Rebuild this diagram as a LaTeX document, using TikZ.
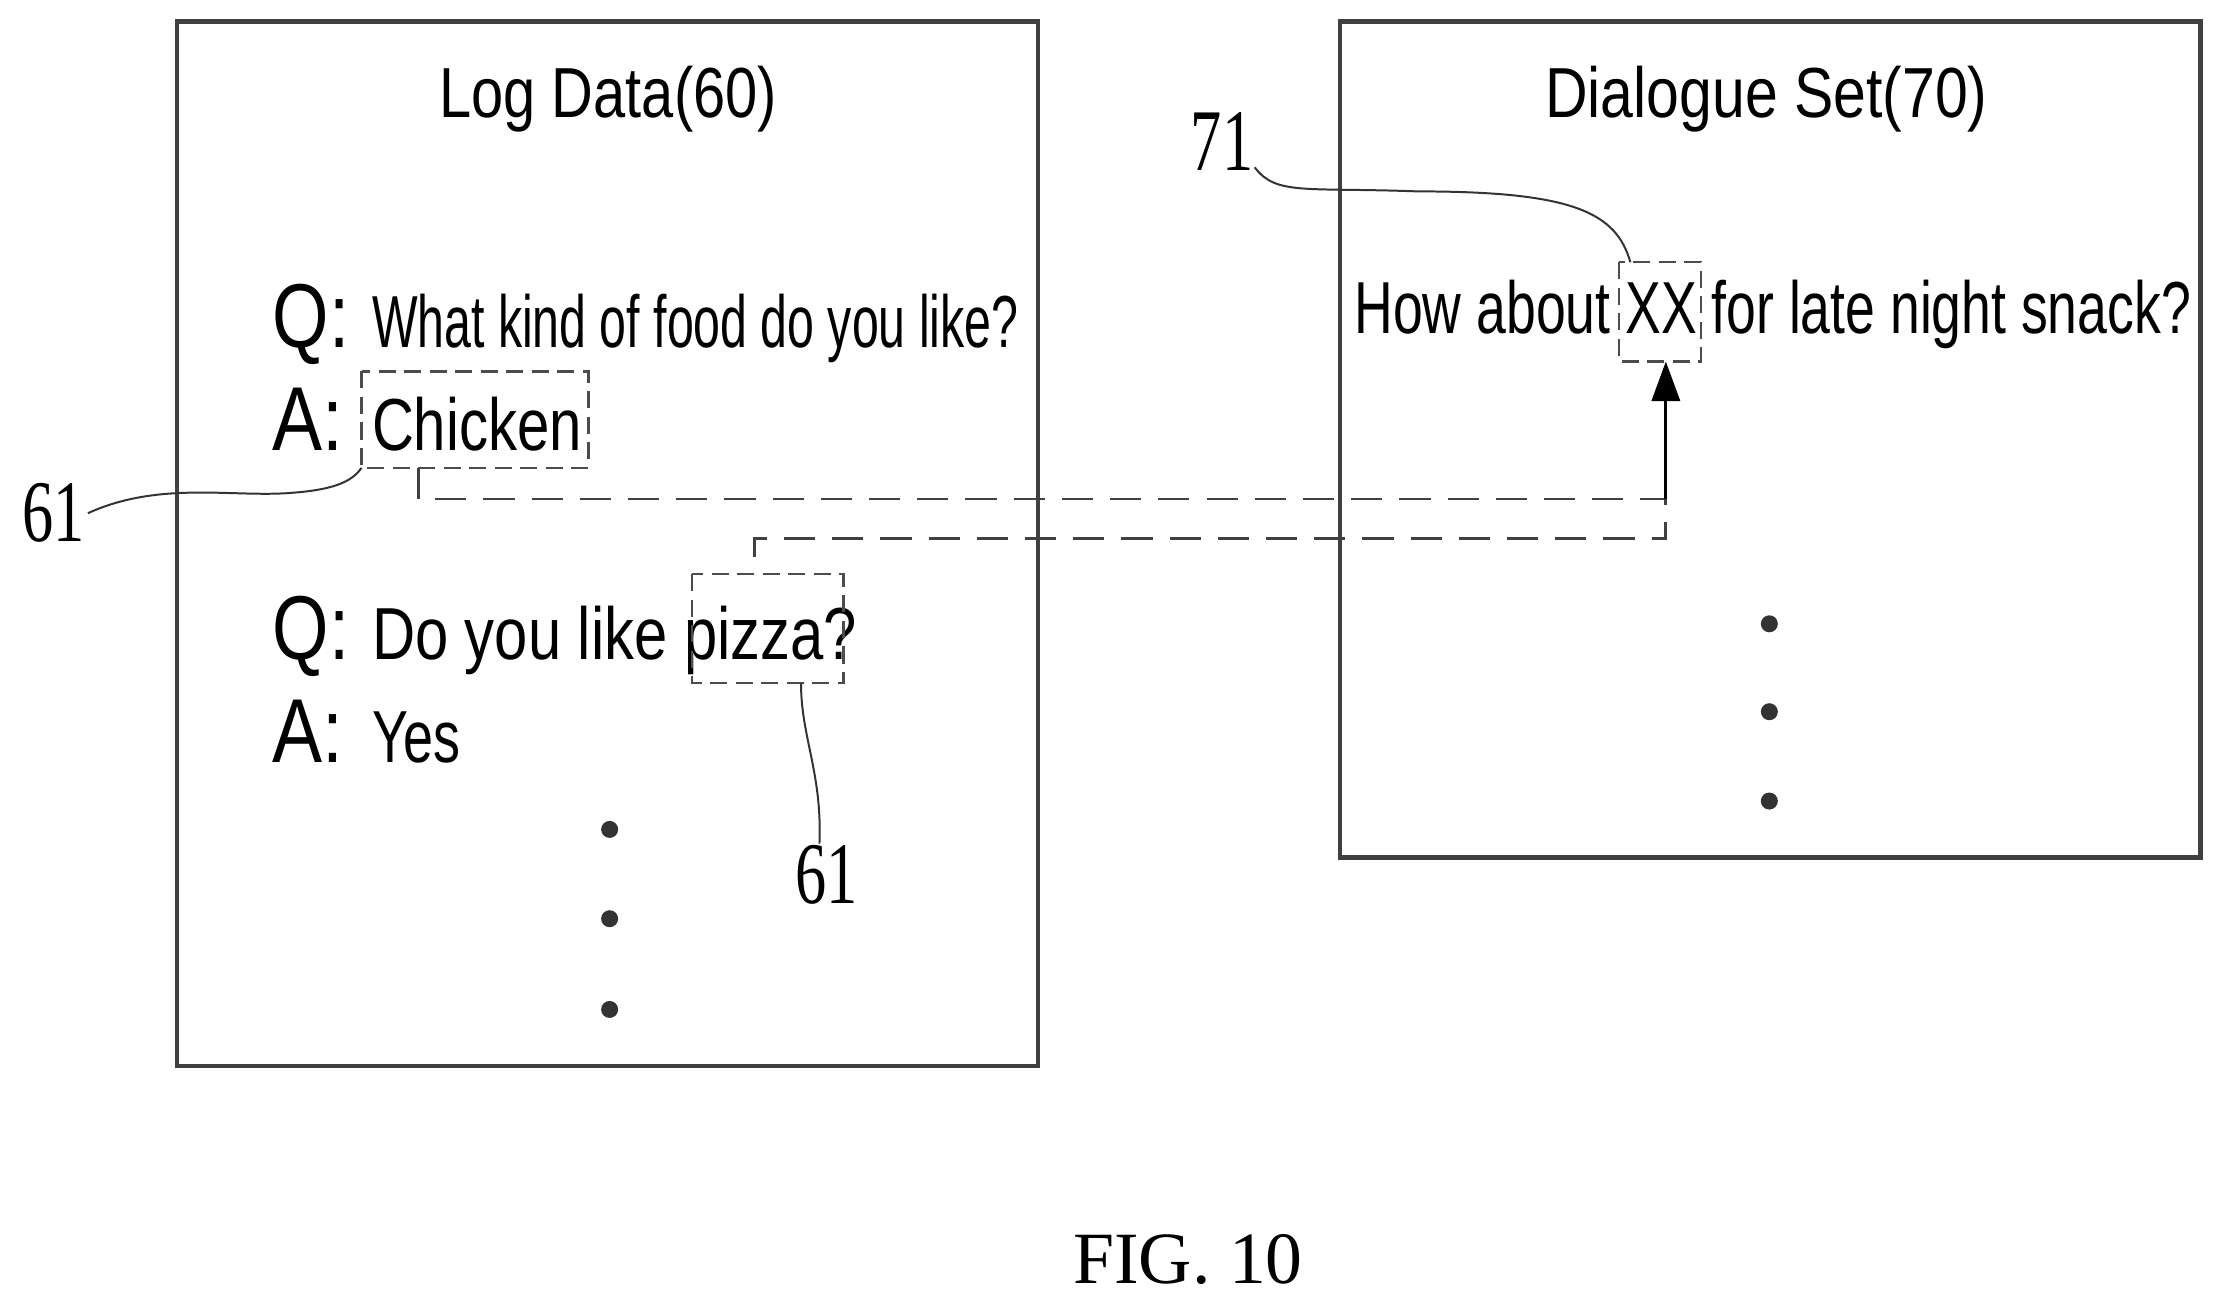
\documentclass[tikz,border=0pt]{standalone}
\usepackage{fontspec}
\setmainfont{Liberation Sans}
\newfontfamily\serifnum{Liberation Serif}
\usetikzlibrary{arrows.meta}
\newcommand{\fitw}[2]{\resizebox{#1}{\height}{#2}}
\begin{document}
\begin{tikzpicture}[x=0.5pt,y=-0.5pt,
  frame/.style={draw=black!75,line width=1.6pt},
  tbox/.style={draw=black!70,line width=0.8pt,dash pattern=on 6pt off 3pt},
  band/.style={draw=black!75,line width=1pt,dash pattern=on 11pt off 6pt},
  lead/.style={draw=black!80,line width=0.7pt},
  txt/.style={inner sep=0pt,anchor=base west,font=\fontsize{26pt}{28pt}\selectfont},
  ttl/.style={inner sep=0pt,anchor=base,font=\fontsize{25pt}{28pt}\selectfont},
  ql/.style={inner sep=0pt,anchor=base west,font=\fontsize{32pt}{36pt}\selectfont},
  num/.style={inner sep=0pt,anchor=base,font=\serifnum\fontsize{31pt}{33pt}\selectfont},
  dot/.style={circle,fill=black!80,inner sep=0pt,minimum size=6pt}]
\useasboundingbox (0,0) rectangle (1568,922);
\fill[white] (0,0) rectangle (1568,922);
% frames
\node[frame,minimum width=303.5pt,minimum height=368.5pt,inner sep=0pt] (log) at (428.5,383.5) {};
\node[frame,minimum width=303.5pt,minimum height=295pt,inner sep=0pt] (dia) at (1248.5,310) {};
\node[ttl] (t1) at (429,83) {\fitw{119pt}{Log Data(60)}};
\node[ttl] (t2) at (1246,83) {\fitw{156pt}{Dialogue Set(70)}};
% left text
\node[ql] (q1) at (192,245) {\fitw{27pt}{Q:}};
\node[txt] (l1) at (262,245) {\fitw{228pt}{What kind of food do you like?}};
\node[ql] (a1) at (192,318) {\fitw{25pt}{A:}};
\node[txt] (l2) at (262,318) {\fitw{74pt}{Chicken}};
\node[ql] (q2) at (192,465) {\fitw{27pt}{Q:}};
\node[txt] (l3) at (262,465) {\fitw{171pt}{Do you like pizza?}};
\node[ql] (a2) at (192,538) {\fitw{25pt}{A:}};
\node[txt] (l4) at (262,538) {\fitw{31pt}{Yes}};
\foreach \y/\n in {585/a,648/b,712/c} \node[dot] (ld\n) at (430,\y) {};
% right text
\node[txt] (r1) at (955,235) {\fitw{295pt}{How about XX for late night snack?}};
\foreach \y/\n in {440/a,502/b,565/c} \node[dot] (rd\n) at (1248,\y) {};
% highlight boxes
\draw[tbox] (255,262) rectangle (415,330);
\draw[tbox] (488,405) rectangle (595,482);
\draw[tbox] (1142,185) rectangle (1200,255);
\coordinate (cb) at (295,330);
\coordinate (pb) at (532,405);
\coordinate (xb) at (1175,255);
\coordinate (c1) at (295,352);
\coordinate (c2) at (1175,352);
\coordinate (c3) at (1175,380);
\coordinate (c4) at (532,380);
\draw[band] (cb) -- (c1) -- (c2) -- (c3) -- (c4) -- (pb);
\draw[line width=1pt,-{Triangle[length=14pt,width=10pt]}] (c2) -- (xb);
% labels
\node[num] (n1) at (38,382) {\fitw{22pt}{61}};
\node[num] (n2) at (583,637) {\fitw{22pt}{61}};
\node[num] (n3) at (862,120) {\fitw{22pt}{71}};
\draw[lead] (62,362) .. controls (110,340) and (160,350) .. (200,348) .. controls (235,346) and (248,340) .. (255,330);
\draw[lead] (565,482) .. controls (565,520) and (580,545) .. (578,595);
\draw[lead] (885,118) .. controls (900,138) and (920,132) .. (1000,135) .. controls (1110,135) and (1140,150) .. (1150,185);
\node[inner sep=0pt,anchor=base,font=\serifnum\fontsize{26pt}{28pt}\selectfont] (fig) at (838,905) {FIG. 10};
\end{tikzpicture}
\end{document}
